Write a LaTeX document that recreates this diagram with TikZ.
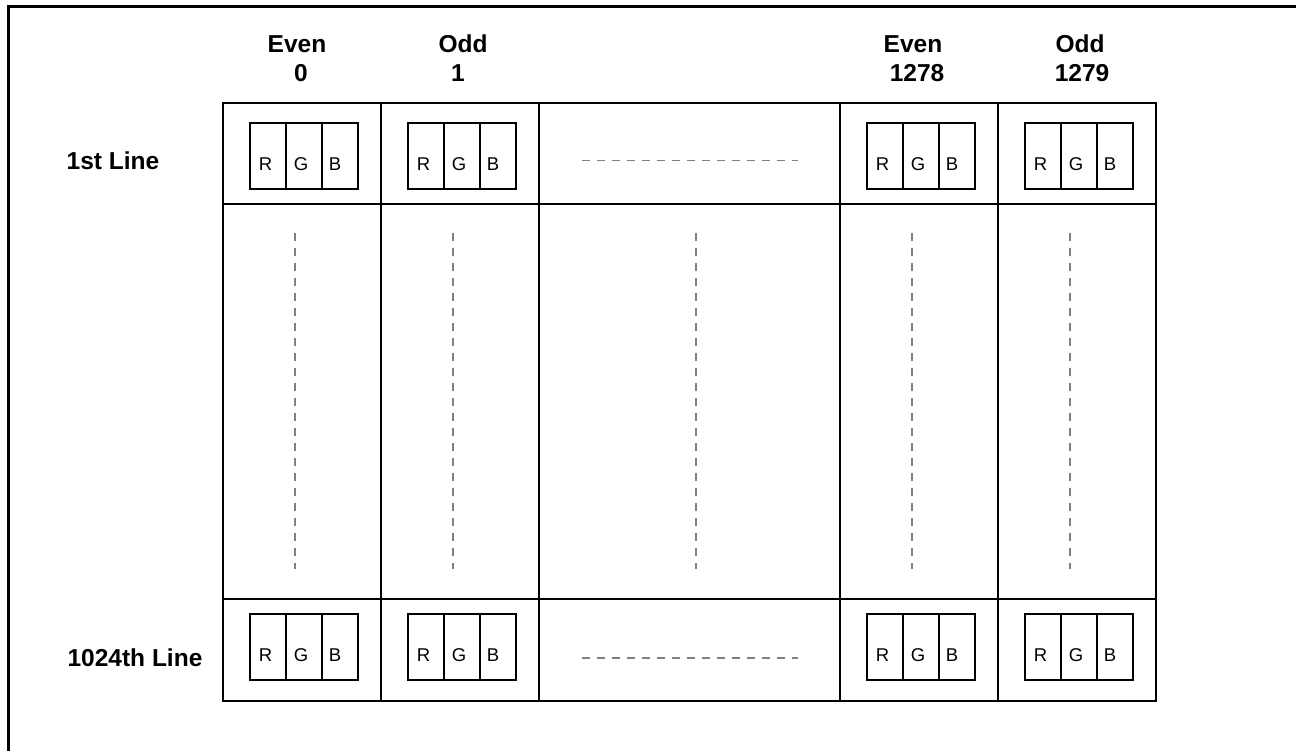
\documentclass[tikz,border=0pt]{standalone}
\usepackage{fontspec}
\setmainfont{Liberation Sans}
\begin{document}
\begin{tikzpicture}[x=1pt,y=-1pt,
  frame/.style={line width=3pt},
  grid/.style={line width=2.3pt},
  rgbbox/.style={line width=2pt},
  dots/.style={line width=1.3pt, gray, dash pattern=on 8pt off 7pt},
  lbl/.style={font=\fontsize{24.5}{29}\selectfont\bfseries, inner sep=0pt, anchor=base},
  ch/.style={font=\fontsize{18.5}{22}\selectfont, inner sep=0pt, anchor=base}]
\useasboundingbox (0,0) rectangle (1296,751);
% outer frame (top and left only)
\draw[frame] (8.5,751) -- (8.5,6.3) -- (1296,6.3);
% grid
\draw[grid] (223,103) rectangle (1156,701);
\draw[grid] (223,204) -- (1156,204);
\draw[grid] (223,599) -- (1156,599);
\foreach \gx in {381,539,840,998} \draw[grid] (\gx,103) -- (\gx,701);
% headers
\node[lbl] (h1a) at (297,53) {Even};
\node[lbl] (h1b) at (301,82) {0};
\node[lbl] (h2a) at (463,53) {Odd};
\node[lbl] (h2b) at (458,82) {1};
\node[lbl] (h3a) at (913,53) {Even};
\node[lbl] (h3b) at (917,82) {1278};
\node[lbl] (h4a) at (1080,53) {Odd};
\node[lbl] (h4b) at (1082,82) {1279};
% row labels
\node[lbl] (row1) at (113,170) {1st Line};
\node[lbl] (row2) at (135,666) {1024th Line};
% RGB boxes
\foreach \cx [count=\i] in {250,408,867,1025} {
  \foreach \ty [count=\j] in {122.7,614} {
    \draw[rgbbox] (\cx,\ty) rectangle ++(108,66);
    \draw[rgbbox] (\cx+36,\ty) -- ++(0,66);
    \draw[rgbbox] (\cx+72,\ty) -- ++(0,66);
    \node[ch] (r\i\j) at (\cx+15.5,\ty+47.5) {R};
    \node[ch] (g\i\j) at (\cx+51,\ty+47.5) {G};
    \node[ch] (b\i\j) at (\cx+85,\ty+47.5) {B};
  }
}
% horizontal ellipsis dashes
\draw[dots] (581.7,160.7) -- (797.7,160.7);
\draw[dots] (581.7,658) -- (797.7,658);
% vertical ellipsis dashes
\foreach \vx in {295,453,696,912,1070} \draw[dots] (\vx,233) -- (\vx,569);
\end{tikzpicture}
\end{document}
